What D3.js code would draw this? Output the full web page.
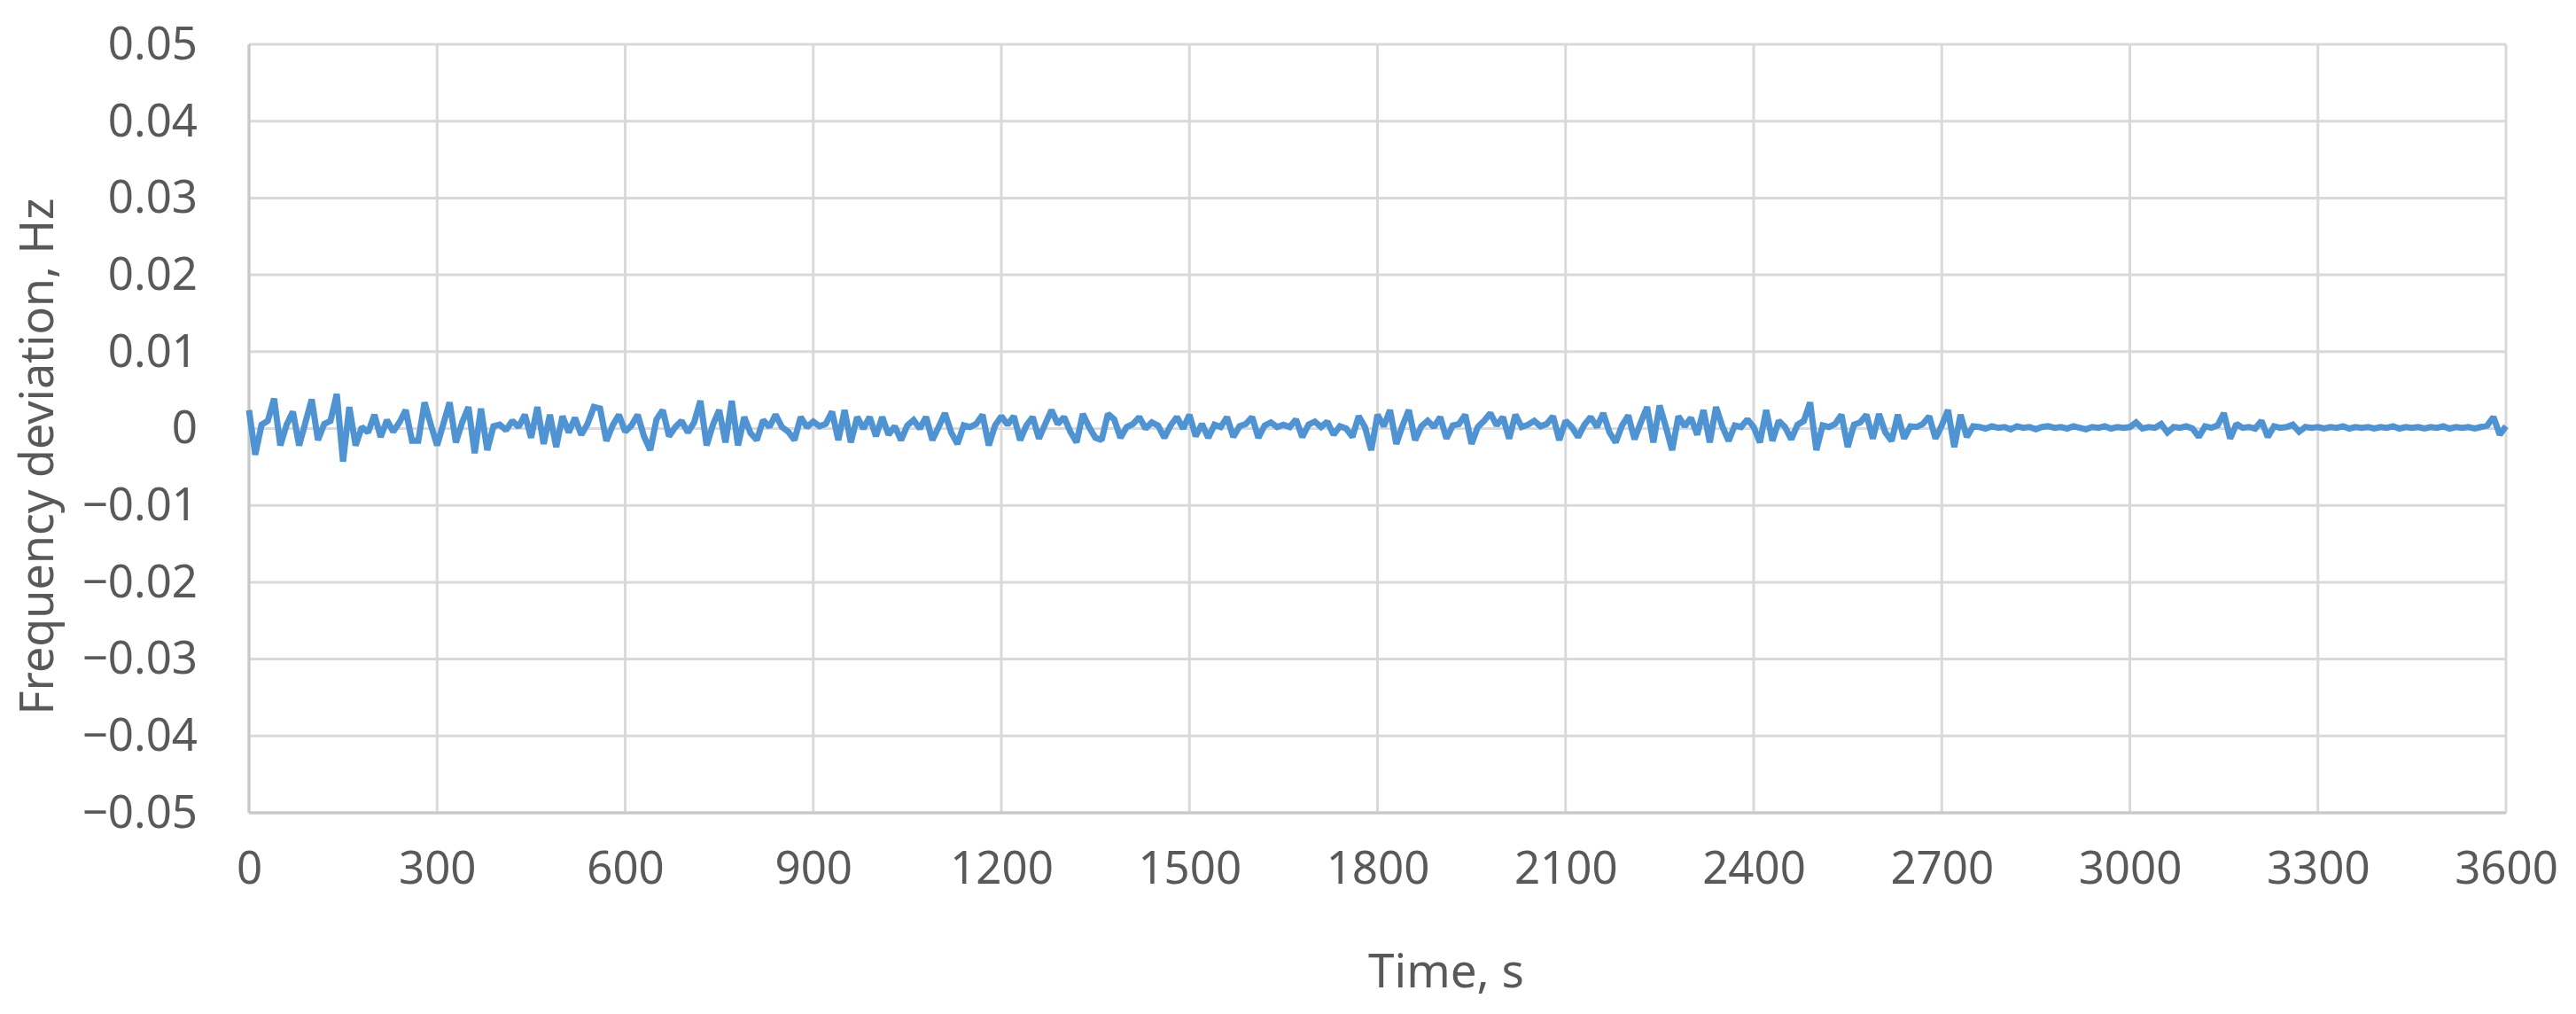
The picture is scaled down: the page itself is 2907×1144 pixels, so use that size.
<!DOCTYPE html>
<html lang="en">
<head>
<meta charset="UTF-8" />
<title>Frequency deviation</title>
<script src="https://d3js.org/d3.v7.min.js"></script>
<style>
  body { margin: 0; background: #ffffff; }
  svg { display: block; }
  .tick text { font-family: "Noto Sans", "Open Sans", sans-serif; fill: #595959; }
</style>
</head>
<body>
<script>
  const sampleStep = 10;
  const deviationMHz = [
    2.4,-3.4,0.5,1.0,3.9,-2.2,0.5,2.2,-2.2,0.8,
    3.8,-1.5,0.6,1.0,4.5,-4.3,2.8,-2.2,0.2,-0.5,
    1.8,-1.1,1.1,-0.4,0.8,2.4,-1.6,-1.6,3.4,0.5,
    -2.2,0.6,3.4,-1.8,0.8,2.8,-3.2,2.6,-2.8,0.3,
    0.5,-0.2,1.0,0.2,1.8,-1.2,2.8,-2.0,1.8,-2.4,
    1.6,-0.5,1.4,-0.8,0.6,2.8,2.6,-1.6,0.4,1.8,
    -0.4,0.4,1.8,-1.0,-2.8,1.2,2.4,-1.0,0.2,1.0,
    -0.5,0.8,3.6,-2.2,0.5,2.4,-1.8,3.6,-2.2,1.5,
    -0.6,-1.5,1.1,0.2,1.8,0.2,-0.4,-1.5,1.5,0.2,
    0.9,0.3,0.6,2.2,-1.5,2.4,-1.8,1.5,0.0,1.5,
    -1.0,1.5,-0.8,0.3,-1.5,0.4,1.1,0.0,1.5,-1.5,
    0.2,2.0,-0.5,-2.0,0.4,0.2,0.6,1.8,-2.2,0.4,
    1.6,0.5,1.6,-1.5,0.4,1.5,-1.3,0.6,2.4,0.6,
    1.5,-0.4,-1.8,1.9,0.2,-1.2,-1.5,1.9,1.2,-1.2,
    0.2,0.6,1.5,0.0,0.8,0.4,-1.2,0.4,1.5,0.0,
    1.8,-1.0,0.6,-1.2,0.5,0.2,1.5,-1.1,0.3,0.6,
    1.5,-1.2,0.4,0.8,0.2,0.5,0.2,1.2,-1.1,0.5,
    0.9,0.2,0.9,-0.8,0.3,0.0,-1.1,1.6,0.2,-2.8,
    1.8,0.3,2.4,-2.0,0.4,2.4,-1.5,0.3,1.0,0.2,
    1.5,-1.3,0.4,0.6,1.8,-2.0,0.2,1.0,2.0,0.4,
    1.5,-1.3,1.8,0.2,0.5,1.0,0.3,0.6,1.6,-1.5,
    1.0,0.2,-1.1,0.5,1.5,0.2,2.0,-0.5,-1.8,0.4,
    1.7,-1.4,0.8,2.8,-1.8,3.0,0.2,-2.8,1.6,0.3,
    1.4,-0.8,2.4,-1.8,2.8,0.3,-1.6,0.4,0.2,1.2,
    0.2,-1.8,2.4,-1.6,1.0,0.2,-1.4,0.5,1.0,3.4,
    -2.8,0.4,0.2,0.6,1.8,-2.4,0.5,0.8,1.8,-1.3,
    1.9,-0.5,-1.6,1.8,-1.3,0.3,0.2,0.6,1.6,-1.3,
    0.4,2.4,-2.4,1.8,-1.1,0.3,0.2,0.0,0.3,0.1,
    0.2,-0.1,0.3,0.1,0.2,-0.1,0.2,0.3,0.1,0.2,
    0.0,0.3,0.1,-0.1,0.2,0.1,0.3,0.0,0.2,0.1,
    0.2,0.8,0.0,0.2,0.1,0.6,-0.5,0.2,0.1,0.3,
    0.0,-1.1,0.3,0.1,0.4,2.0,-1.3,0.6,0.1,0.2,
    0.0,1.0,-1.1,0.3,0.1,0.2,0.5,-0.4,0.2,0.1,
    0.2,0.0,0.2,0.1,0.3,0.0,0.2,0.1,0.2,0.0,
    0.2,0.1,0.3,0.0,0.2,0.1,0.2,0.0,0.2,0.1,
    0.3,0.0,0.2,0.1,0.2,0.0,0.2,0.4,1.5,-0.8,
    0.3
  ];
  const xTicks = [0,300,600,900,1200,1500,1800,2100,2400,2700,3000,3300,3600];
  const yTicks = [-0.05,-0.04,-0.03,-0.02,-0.01,0,0.01,0.02,0.03,0.04,0.05];
  const xTitle = "Time, s";
  const yTitle = "Frequency deviation, Hz";

  var W = 2907, H = 1144;
  var m = {left: 281, right: W - 2828, top: 50, bottom: H - 917};
  var pw = W - m.left - m.right, ph = H - m.top - m.bottom;

  var x = d3.scaleLinear().domain([0, 3600]).range([0, pw]);
  var y = d3.scaleLinear().domain([-0.05, 0.05]).range([ph, 0]);

  var svg = d3.select("body").append("svg").attr("width", W).attr("height", H);
  var g = svg.append("g").attr("transform", "translate(" + m.left + "," + m.top + ")");

  // gridlines
  g.append("g").selectAll("line").data(yTicks).enter().append("line")
    .attr("x1", 0).attr("x2", pw)
    .attr("y1", d => y(d)).attr("y2", d => y(d))
    .attr("stroke", "#d9d9d9").attr("stroke-width", 3);
  g.append("g").selectAll("line").data(xTicks).enter().append("line")
    .attr("x1", d => x(d)).attr("x2", d => x(d))
    .attr("y1", 0).attr("y2", ph)
    .attr("stroke", "#d9d9d9").attr("stroke-width", 3);

  // axes (labels only, lines drawn separately)
  var fmtY = d => d === 0 ? "0" : d3.format(".2f")(d).replace("-", "\u2212");
  var yAxis = d3.axisLeft(y).tickValues(yTicks).tickFormat(fmtY).tickSize(0).tickPadding(58);
  var xAxis = d3.axisBottom(x).tickValues(xTicks).tickFormat(d3.format("d")).tickSize(0).tickPadding(44);
  var ya = g.append("g").call(yAxis);
  var xa = g.append("g").attr("transform", "translate(0," + ph + ")").call(xAxis);
  ya.select(".domain").remove();
  xa.select(".domain").remove();
  ya.selectAll("text").style("font-size", "51px");
  xa.selectAll("text").style("font-size", "51px");

  g.append("line").attr("x1", 0).attr("x2", 0).attr("y1", 0).attr("y2", ph)
    .attr("stroke", "#c8c8c8").attr("stroke-width", 3);
  g.append("line").attr("x1", 0).attr("x2", pw).attr("y1", ph).attr("y2", ph)
    .attr("stroke", "#c8c8c8").attr("stroke-width", 3);

  // series
  var line = d3.line()
    .x((d, i) => x(i * sampleStep))
    .y(d => y(d / 1000));
  g.append("path").datum(deviationMHz)
    .attr("d", line)
    .attr("fill", "none")
    .attr("stroke", "#4f93d3")
    .attr("stroke-width", 7)
    .attr("stroke-linejoin", "miter")
    .attr("stroke-miterlimit", 1.5);

  // titles
  svg.append("text")
    .attr("x", 1632).attr("y", 1100)
    .attr("text-anchor", "middle").attr("dominant-baseline", "middle")
    .style("font-family", "Noto Sans, Open Sans, sans-serif")
    .style("font-size", "53px").style("fill", "#595959")
    .text(xTitle);
  svg.append("text")
    .attr("transform", "translate(46,515) rotate(-90)")
    .attr("text-anchor", "middle").attr("dominant-baseline", "middle")
    .style("font-family", "Noto Sans, Open Sans, sans-serif")
    .style("font-size", "52px").style("fill", "#595959")
    .text(yTitle);
</script>
</body>
</html>
